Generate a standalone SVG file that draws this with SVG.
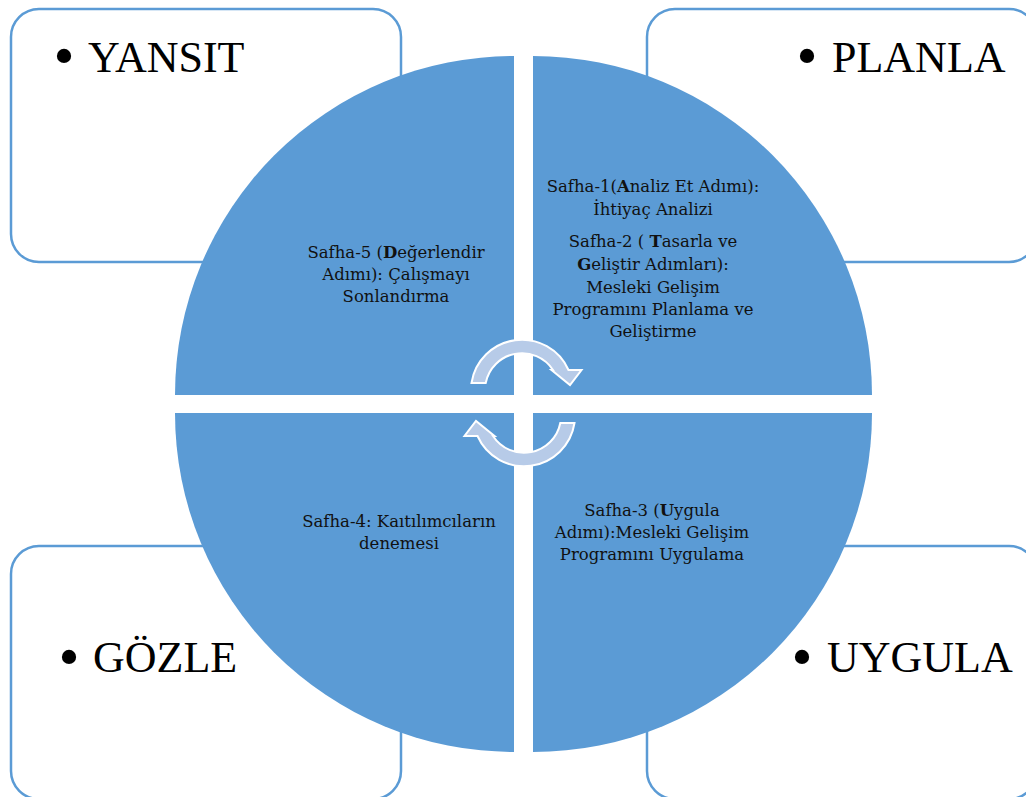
<svg xmlns="http://www.w3.org/2000/svg" width="1026" height="797" viewBox="0 0 1026 797">
<style>
.box{fill:#ffffff;stroke:#5b9bd5;stroke-width:2.5}
.q{fill:#5b9bd5}
.arr{fill:#b7cbe8;stroke:#ffffff;stroke-width:2;stroke-linejoin:miter}
.big{font-family:"Liberation Serif","Times New Roman",serif;font-size:44px;fill:#000}
.bul{font-family:"Liberation Serif","Times New Roman",serif;font-size:60px;fill:#000;text-anchor:middle}
.sm{font-family:"DejaVu Serif","Liberation Serif",serif;font-size:16.5px;fill:#111;text-anchor:middle}
.b{font-weight:bold}
</style>
<defs>
<path id="carrow" d="M471.5,383 A51,51 0 0 1 568.5,370 L581.5,370 L570,385 L551.5,370 L553,370 A37,37 0 0 0 485.7,383 Z"/>
</defs>
<rect width="1026" height="797" fill="#ffffff"/>
<g id="yansit">
<rect class="box" x="11" y="9" width="390" height="253" rx="28"/>
<text class="bul" x="64" y="76">•</text>
<text class="big" x="88" y="72">YANSIT</text>
</g>
<g id="planla">
<rect class="box" x="647" y="9" width="390" height="253" rx="28"/>
<text class="bul" x="807" y="76">•</text>
<text class="big" x="832" y="72">PLANLA</text>
</g>
<g id="gozle">
<rect class="box" x="11" y="546" width="390" height="253" rx="28"/>
<text class="bul" x="69" y="677">•</text>
<text class="big" x="93" y="672">GÖZLE</text>
</g>
<g id="uygula">
<rect class="box" x="647" y="546" width="390" height="253" rx="28"/>
<text class="bul" x="802" y="677">•</text>
<text class="big" x="827" y="672">UYGULA</text>
</g>
<g id="safha5">
<path class="q" d="M514,395 L175,395 A339,339 0 0 1 514,56 Z"/>
<text class="sm" x="396" y="258">Safha-5 (<tspan class="b">D</tspan>eğerlendir</text>
<text class="sm" x="396" y="280">Adımı): Çalışmayı</text>
<text class="sm" x="396" y="302">Sonlandırma</text>
</g>
<g id="safha12">
<path class="q" d="M533,395 L533,56 A339,339 0 0 1 872,395 Z"/>
<text class="sm" x="653" y="192">Safha-1(<tspan class="b">A</tspan>naliz Et Adımı):</text>
<text class="sm" x="653" y="215">İhtiyaç Analizi</text>
<text class="sm" x="653" y="247">Safha-2 ( <tspan class="b">T</tspan>asarla ve</text>
<text class="sm" x="653" y="270"><tspan class="b">G</tspan>eliştir Adımları):</text>
<text class="sm" x="653" y="293">Mesleki Gelişim</text>
<text class="sm" x="653" y="315">Programını Planlama ve</text>
<text class="sm" x="653" y="337">Geliştirme</text>
</g>
<g id="safha3">
<path class="q" d="M533,413 L872,413 A339,339 0 0 1 533,752 Z"/>
<text class="sm" x="652" y="516">Safha-3 (<tspan class="b">U</tspan>ygula</text>
<text class="sm" x="652" y="538">Adımı):Mesleki Gelişim</text>
<text class="sm" x="652" y="560">Programını Uygulama</text>
</g>
<g id="safha4">
<path class="q" d="M514,413 L514,752 A339,339 0 0 1 175,413 Z"/>
<text class="sm" x="399" y="527">Safha-4: Kaıtılımcıların</text>
<text class="sm" x="399" y="549">denemesi</text>
</g>
<g id="connectors">
<use href="#carrow" class="arr"/>
<use href="#carrow" class="arr" transform="rotate(180 523 403)"/>
</g>
</svg>
